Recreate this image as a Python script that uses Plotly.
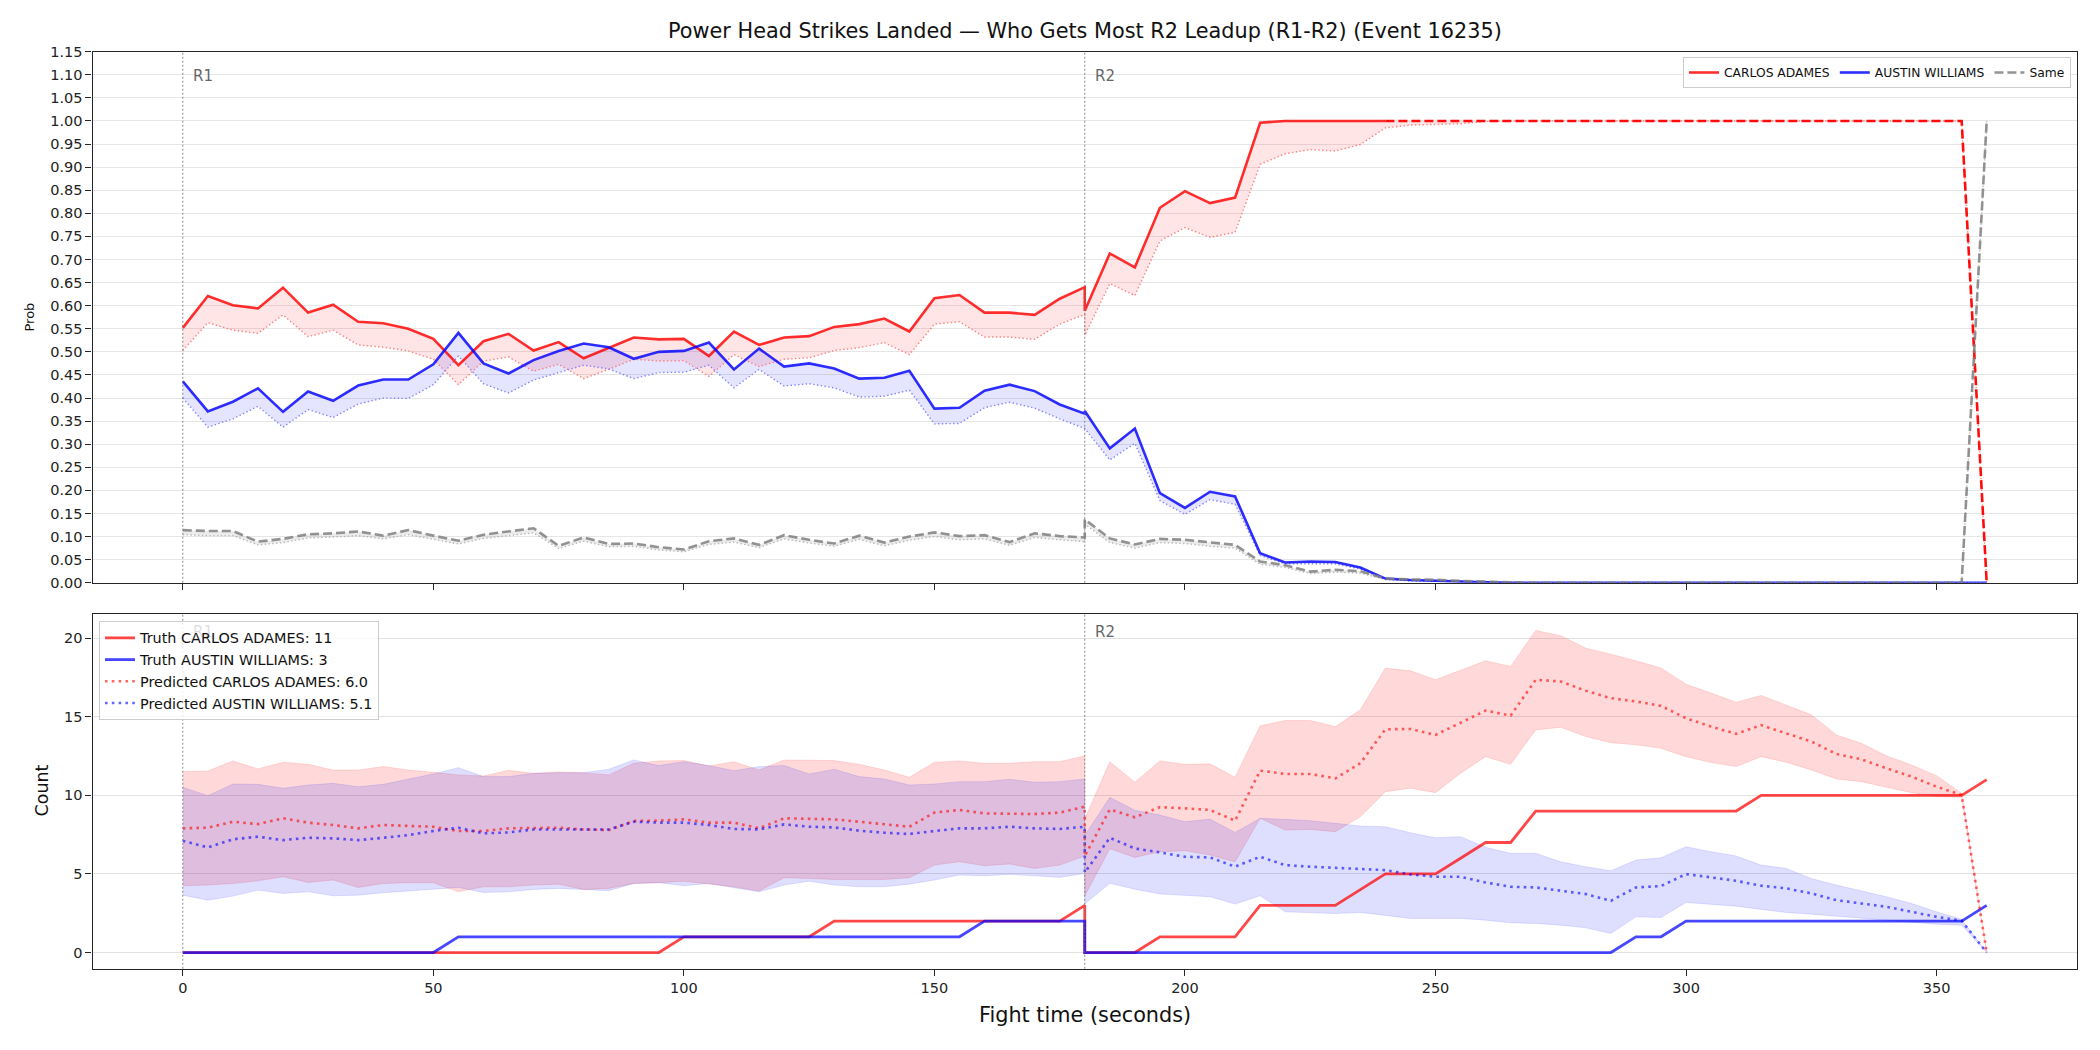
import plotly.graph_objects as go

# ---------------- data ----------------
times_r1 = list(range(0, 181, 5))
times_r2 = list(range(180, 361, 5))
times = times_r1 + times_r2

# top panel: probabilities
carlos_prob_r1 = [0.552,0.621,0.601,0.594,0.639,0.585,0.602,0.565,0.562,0.550,0.528,0.471,0.523,0.539,0.503,0.521,0.486,0.509,0.531,0.527,0.528,0.491,0.544,0.515,0.531,0.534,0.554,0.560,0.572,0.544,0.616,0.623,0.585,0.585,0.580,0.615,0.640]
carlos_prob_r2 = [0.589,0.713,0.683,0.812,0.848,0.822,0.834,0.996,1.0,1.0,1.0,1.0,1.0,1.0,1.0,1.0,1.0,1.0,1.0,1.0,1.0,1.0,1.0,1.0,1.0,1.0,1.0,1.0,1.0,1.0,1.0,1.0,1.0,1.0,1.0,1.0,0.0]
carlos_alt_r1 = [0.503,0.563,0.547,0.540,0.580,0.533,0.547,0.515,0.510,0.502,0.484,0.429,0.480,0.489,0.458,0.473,0.442,0.462,0.484,0.480,0.481,0.447,0.494,0.468,0.484,0.487,0.503,0.509,0.520,0.494,0.560,0.565,0.532,0.532,0.527,0.560,0.581]
carlos_alt_r2 = [0.536,0.648,0.622,0.740,0.769,0.748,0.759,0.906,0.929,0.938,0.935,0.949,0.985,0.991,0.993,0.994,0.999,1.0,1.0,1.0,1.0,1.0,1.0,1.0,1.0,1.0,1.0,1.0,1.0,1.0,1.0,1.0,1.0,1.0,1.0,1.0,0.0]
austin_prob_r1 = [0.436,0.371,0.392,0.421,0.370,0.414,0.394,0.427,0.440,0.440,0.473,0.541,0.475,0.453,0.482,0.502,0.518,0.510,0.485,0.500,0.502,0.520,0.462,0.507,0.468,0.475,0.464,0.442,0.444,0.459,0.377,0.379,0.416,0.429,0.415,0.386,0.366]
austin_prob_r2 = [0.372,0.291,0.334,0.194,0.162,0.197,0.187,0.064,0.044,0.046,0.045,0.033,0.009,0.006,0.004,0.003,0.001,0.0,0.0,0.0,0.0,0.0,0.0,0.0,0.0,0.0,0.0,0.0,0.0,0.0,0.0,0.0,0.0,0.0,0.0,0.0,0.0]
austin_alt_r1 = [0.400,0.337,0.355,0.382,0.337,0.375,0.358,0.387,0.400,0.399,0.429,0.491,0.431,0.411,0.439,0.455,0.471,0.463,0.442,0.455,0.456,0.471,0.422,0.462,0.426,0.431,0.422,0.402,0.404,0.417,0.344,0.345,0.379,0.391,0.378,0.355,0.335]
austin_alt_r2 = [0.334,0.266,0.302,0.178,0.148,0.180,0.170,0.059,0.041,0.041,0.041,0.030,0.007,0.004,0.003,0.002,0.001,0.0,0.0,0.0,0.0,0.0,0.0,0.0,0.0,0.0,0.0,0.0,0.0,0.0,0.0,0.0,0.0,0.0,0.0,0.0,0.0]
same_prob_r1 = [0.114,0.112,0.112,0.089,0.095,0.105,0.107,0.111,0.102,0.114,0.102,0.091,0.104,0.111,0.118,0.080,0.098,0.084,0.085,0.077,0.072,0.090,0.096,0.082,0.103,0.093,0.085,0.102,0.087,0.100,0.109,0.101,0.103,0.088,0.107,0.101,0.098]
same_prob_r2 = [0.137,0.096,0.083,0.095,0.093,0.087,0.082,0.046,0.038,0.024,0.028,0.025,0.009,0.007,0.0065,0.004,0.002,0.001,0.0,0.0,0.0,0.0,0.0,0.0,0.0,0.0,0.0,0.0,0.0,0.0,0.0,0.0,0.0,0.0,0.0,0.0,1.0]
same_alt_r1 = [0.104,0.102,0.102,0.082,0.087,0.097,0.099,0.102,0.095,0.104,0.094,0.084,0.096,0.102,0.108,0.074,0.090,0.078,0.079,0.071,0.067,0.083,0.088,0.076,0.095,0.086,0.079,0.094,0.080,0.092,0.100,0.093,0.095,0.081,0.098,0.093,0.089]
same_alt_r2 = [0.127,0.087,0.075,0.087,0.085,0.079,0.075,0.040,0.033,0.020,0.023,0.021,0.007,0.005,0.005,0.003,0.001,0.0,0.0,0.0,0.0,0.0,0.0,0.0,0.0,0.0,0.0,0.0,0.0,0.0,0.0,0.0,0.0,0.0,0.0,0.0,1.0]
carlos_settled_from = 240   # after this time the leader's line is drawn dashed

# bottom panel: counts
carlos_truth_r1 = [0,0,0,0,0,0,0,0,0,0,0,0,0,0,0,0,0,0,0,0,1,1,1,1,1,1,2,2,2,2,2,2,2,2,2,2,3]
carlos_truth_r2 = [0,0,0,1,1,1,1,3,3,3,3,4,5,5,5,6,7,7,9,9,9,9,9,9,9,9,9,10,10,10,10,10,10,10,10,10,11]
austin_truth_r1 = [0,0,0,0,0,0,0,0,0,0,0,1,1,1,1,1,1,1,1,1,1,1,1,1,1,1,1,1,1,1,1,1,2,2,2,2,2]
austin_truth_r2 = [0,0,0,0,0,0,0,0,0,0,0,0,0,0,0,0,0,0,0,0,0,0,1,1,2,2,2,2,2,2,2,2,2,2,2,2,3]
carlos_pred_r1 = [7.90,7.94,8.32,8.17,8.54,8.26,8.11,7.90,8.11,8.07,8.00,7.73,7.73,7.90,7.90,7.94,7.83,7.79,8.37,8.39,8.47,8.26,8.26,7.90,8.54,8.49,8.47,8.32,8.17,8.00,8.90,9.07,8.85,8.85,8.81,8.90,9.28]
carlos_pred_r2 = [6.15,9.10,8.60,9.25,9.17,9.07,8.39,11.57,11.36,11.36,11.08,12.04,14.20,14.22,13.84,14.63,15.39,15.07,17.35,17.24,16.65,16.18,15.97,15.69,14.90,14.37,13.91,14.46,13.95,13.42,12.63,12.29,11.72,11.19,10.55,10.02,0.0]
carlos_hi_r1 = [11.51,11.55,12.19,11.68,12.10,11.97,11.61,11.61,11.83,11.61,11.46,11.30,11.23,11.59,11.40,11.49,11.44,11.30,12.04,12.19,12.21,11.87,12.14,11.61,12.25,12.25,12.21,11.97,11.61,11.15,12.10,12.19,12.04,12.04,12.14,12.14,12.51]
carlos_hi_r2 = [8.49,12.14,10.83,12.19,11.97,12.00,11.15,14.42,14.76,14.76,14.37,15.44,18.09,17.92,17.35,17.94,18.56,18.20,20.49,20.15,19.36,18.98,18.56,18.09,17.07,16.50,15.92,16.35,15.75,15.12,13.84,13.31,12.51,11.93,11.25,10.13,0.0]
carlos_lo_r1 = [4.25,4.29,4.39,4.56,4.82,4.46,4.61,4.14,4.39,4.44,4.44,3.86,4.18,4.18,4.29,4.35,4.01,4.08,4.39,4.44,4.54,4.35,4.18,3.91,4.76,4.71,4.65,4.65,4.65,4.76,5.56,5.77,5.52,5.63,5.35,5.56,6.14]
carlos_lo_r2 = [3.60,6.60,6.05,6.41,6.48,6.20,5.77,8.54,7.79,7.83,7.69,8.64,10.23,10.45,10.17,11.40,12.46,11.97,14.16,14.33,13.74,13.35,13.21,12.99,12.46,12.08,11.83,12.46,12.10,11.61,11.04,10.87,10.51,10.17,9.92,9.87,0.0]
austin_pred_r1 = [7.11,6.69,7.20,7.37,7.15,7.30,7.26,7.15,7.30,7.47,7.73,7.94,7.58,7.64,7.83,7.83,7.79,7.83,8.32,8.26,8.26,8.11,7.86,7.83,8.15,8.00,7.96,7.75,7.62,7.54,7.73,7.90,7.90,8.00,7.90,7.86,8.00]
austin_pred_r2 = [5.09,7.30,6.62,6.37,6.09,6.05,5.46,6.09,5.56,5.46,5.39,5.35,5.24,4.97,4.82,4.82,4.46,4.18,4.14,3.93,3.72,3.29,4.14,4.23,4.99,4.78,4.56,4.25,4.08,3.76,3.33,3.12,2.91,2.59,2.27,2.02,0.0]
austin_hi_r1 = [10.51,9.98,10.72,10.70,10.45,10.66,10.76,10.55,10.70,11.04,11.36,11.76,11.19,11.19,11.40,11.44,11.44,11.66,12.25,11.89,12.14,11.89,11.57,11.83,11.89,11.36,11.66,11.19,11.04,10.66,10.72,10.87,10.87,11.02,10.83,10.87,11.04]
austin_hi_r2 = [7.45,9.87,9.05,8.75,8.32,8.49,7.64,8.54,8.47,8.39,8.22,8.05,8.00,7.62,7.30,7.37,6.69,6.31,6.31,5.77,5.46,5.20,5.88,6.03,6.73,6.41,6.14,5.56,5.35,4.71,4.29,3.93,3.55,3.12,2.59,2.12,0.0]
austin_lo_r1 = [3.65,3.33,3.59,3.97,3.76,3.86,3.61,3.65,3.80,3.91,4.01,4.14,3.82,3.86,4.01,4.08,4.01,3.93,4.39,4.44,4.25,4.39,4.12,3.86,4.29,4.54,4.29,4.18,4.18,4.35,4.61,4.93,4.88,4.97,4.88,4.78,5.03]
austin_lo_r2 = [3.09,4.40,4.03,3.72,3.65,3.55,3.08,3.61,2.59,2.55,2.48,2.55,2.38,2.17,2.17,2.17,2.06,1.89,1.85,1.74,1.57,1.21,2.27,2.23,3.18,3.08,2.95,2.74,2.55,2.44,2.31,2.17,2.06,1.95,1.80,1.74,0.0]

name_a = "CARLOS ADAMES"
name_b = "AUSTIN WILLIAMS"
truth_a_total = 11
truth_b_total = 3
pred_a_total = 6.0
pred_b_total = 5.1
round_starts = [0, 180]
round_labels = ["R1", "R2"]
x_ticks = [0, 50, 100, 150, 200, 250, 300, 350]

# ---------------- styles ----------------
FONT = "DejaVu Sans"
RED = "rgba(255,0,0,0.82)"
BLUE = "rgba(0,0,255,0.82)"
GREY = "rgba(128,128,128,0.85)"

fig = go.Figure()

def band(x, lo, hi, fill, xa, ya, edge="rgba(0,0,0,0)"):
    fig.add_trace(go.Scatter(x=x, y=lo, mode="lines", line=dict(width=1, color=edge),
                             showlegend=False, hoverinfo="skip", xaxis=xa, yaxis=ya))
    fig.add_trace(go.Scatter(x=x, y=hi, mode="lines", line=dict(width=1, color=edge),
                             fill="tonexty", fillcolor=fill, showlegend=False,
                             hoverinfo="skip", xaxis=xa, yaxis=ya))

# ---- top panel ----
ca = carlos_prob_r1 + carlos_prob_r2
ca2 = carlos_alt_r1 + carlos_alt_r2
au = austin_prob_r1 + austin_prob_r2
au2 = austin_alt_r1 + austin_alt_r2
sm = same_prob_r1 + same_prob_r2
sm2 = same_alt_r1 + same_alt_r2

n1 = len(times_r1)
ca_solid = [v if (i < n1 or t <= carlos_settled_from) else None for i, (t, v) in enumerate(zip(times, ca))]
ca_dash = [v if (i >= n1 and t >= carlos_settled_from) else None for i, (t, v) in enumerate(zip(times, ca))]

band(times, ca2, ca, "rgba(255,0,0,0.10)", "x", "y")
band(times, au2, au, "rgba(0,0,255,0.10)", "x", "y")
band(times, sm2, sm, "rgba(128,128,128,0.15)", "x", "y")

for yv, col in [(ca2, "rgba(255,120,120,0.95)"), (au2, "rgba(120,120,255,0.9)"), (sm2, "rgba(180,180,180,0.95)")]:
    fig.add_trace(go.Scatter(x=times, y=yv, mode="lines", showlegend=False, hoverinfo="skip",
                             line=dict(color=col, width=1.4, dash="1.4px,2.4px"), xaxis="x", yaxis="y"))

fig.add_trace(go.Scatter(x=times, y=ca_solid, mode="lines", name=name_a, legend="legend",
                         line=dict(color=RED, width=2.6), xaxis="x", yaxis="y"))
fig.add_trace(go.Scatter(x=times, y=ca_dash, mode="lines", showlegend=False, hoverinfo="skip",
                         line=dict(color="rgba(255,0,0,0.95)", width=2.6, dash="9px,4px"),
                         xaxis="x", yaxis="y"))
fig.add_trace(go.Scatter(x=times, y=au, mode="lines", name=name_b, legend="legend",
                         line=dict(color=BLUE, width=2.6), xaxis="x", yaxis="y"))
fig.add_trace(go.Scatter(x=times, y=sm, mode="lines", name="Same", legend="legend",
                         line=dict(color=GREY, width=2.6, dash="9px,4px"), xaxis="x", yaxis="y"))

# ---- bottom panel ----
band(times, carlos_lo_r1 + carlos_lo_r2, carlos_hi_r1 + carlos_hi_r2,
     "rgba(255,0,0,0.15)", "x2", "y2", edge="rgba(255,0,0,0.12)")
band(times, austin_lo_r1 + austin_lo_r2, austin_hi_r1 + austin_hi_r2,
     "rgba(0,0,255,0.13)", "x2", "y2", edge="rgba(0,0,255,0.10)")

fig.add_trace(go.Scatter(x=times, y=carlos_truth_r1 + carlos_truth_r2, mode="lines",
                         name=f"Truth {name_a}: {truth_a_total}", legend="legend2",
                         line=dict(color="rgba(255,0,0,0.72)", width=2.8), xaxis="x2", yaxis="y2"))
fig.add_trace(go.Scatter(x=times, y=austin_truth_r1 + austin_truth_r2, mode="lines",
                         name=f"Truth {name_b}: {truth_b_total}", legend="legend2",
                         line=dict(color="rgba(0,0,255,0.72)", width=2.8), xaxis="x2", yaxis="y2"))
fig.add_trace(go.Scatter(x=times, y=carlos_pred_r1 + carlos_pred_r2, mode="lines",
                         name=f"Predicted {name_a}: {pred_a_total:.1f}", legend="legend2",
                         line=dict(color="rgba(255,0,0,0.6)", width=2.6, dash="2.6px,4.2px"),
                         xaxis="x2", yaxis="y2"))
fig.add_trace(go.Scatter(x=times, y=austin_pred_r1 + austin_pred_r2, mode="lines",
                         name=f"Predicted {name_b}: {pred_b_total:.1f}", legend="legend2",
                         line=dict(color="rgba(0,0,255,0.6)", width=2.6, dash="2.6px,4.2px"),
                         xaxis="x2", yaxis="y2"))

# ---------------- layout ----------------
XDOM = [0.0441, 0.9890]
TOP = [0.4450, 0.9508]
BOT = [0.0774, 0.4152]
tickfont = dict(family=FONT, size=14.5, color="#222")
axcommon = dict(showline=True, linecolor="#262626", linewidth=1.4, mirror=True,
                ticks="outside", ticklen=6, tickwidth=1.3, tickcolor="#262626",
                zeroline=False, tickfont=tickfont, automargin=False)

shapes = []
annotations = []
for xr, yr in [("x", "y"), ("x2", "y2")]:
    for rs in round_starts:
        shapes.append(dict(type="line", xref=xr, yref=yr + " domain", x0=rs, x1=rs, y0=0, y1=1,
                           line=dict(color="rgba(110,110,110,0.8)", width=1, dash="2px,2px"), layer="above"))
for rs, lab in zip(round_starts, round_labels):
    annotations.append(dict(x=rs + 1.6, y=1.097, xref="x", yref="y", text=lab, showarrow=False,
                            xanchor="left", yanchor="middle", font=dict(family=FONT, size=15, color="#666")))
    # in the lower panel the R1 label sits behind the semi-transparent legend
    lab_col = "rgba(102,102,102,0.22)" if rs == 0 else "#666"
    annotations.append(dict(x=rs + 1.6, y=20.4, xref="x2", yref="y2", text=lab, showarrow=False,
                            xanchor="left", yanchor="middle", font=dict(family=FONT, size=15, color=lab_col)))

annotations += [
    dict(text="Power Head Strikes Landed \u2014 Who Gets Most R2 Leadup (R1-R2) (Event 16235)",
         x=1085 / 2100, y=1 - 31 / 1050, xref="paper", yref="paper", showarrow=False,
         xanchor="center", yanchor="middle", font=dict(family=FONT, size=20.8, color="#111")),
    dict(text="Prob", x=28.5 / 2100, y=1 - 317 / 1050, xref="paper", yref="paper", showarrow=False,
         textangle=-90, xanchor="center", yanchor="middle", font=dict(family=FONT, size=13, color="#111")),
    dict(text="Count", x=41.5 / 2100, y=1 - 791 / 1050, xref="paper", yref="paper", showarrow=False,
         textangle=-90, xanchor="center", yanchor="middle", font=dict(family=FONT, size=17.5, color="#111")),
    dict(text="Fight time (seconds)", x=1085 / 2100, y=1 - 1015 / 1050, xref="paper", yref="paper",
         showarrow=False, xanchor="center", yanchor="middle", font=dict(family=FONT, size=20.8, color="#111")),
]

fig.update_layout(
    width=2100, height=1050,
    autosize=False,
    margin=dict(l=0, r=0, t=0, b=0, pad=0, autoexpand=False),
    paper_bgcolor="white", plot_bgcolor="white",
    font=dict(family=FONT, color="#111"),
    xaxis=dict(domain=XDOM, anchor="y", range=[-18, 378], tickvals=x_ticks, showticklabels=False,
               showgrid=False, **axcommon),
    yaxis=dict(domain=TOP, anchor="x", range=[0, 1.15], dtick=0.05, tick0=0, tickformat=".2f",
               showgrid=True, gridcolor="#e6e6e6", gridwidth=1, **axcommon),
    xaxis2=dict(domain=XDOM, anchor="y2", range=[-18, 378], tickvals=x_ticks, matches="x",
                showgrid=False, **axcommon),
    yaxis2=dict(domain=BOT, anchor="x2", range=[-1.03, 21.53], tickvals=[0, 5, 10, 15, 20],
                showgrid=True, gridcolor="#e2e2e2", gridwidth=1, **axcommon),
    legend=dict(orientation="h", x=2071 / 2100, y=1 - 57 / 1050, xanchor="right", yanchor="top",
                bgcolor="rgba(255,255,255,0.8)", bordercolor="#cccccc", borderwidth=1,
                traceorder="normal",
                font=dict(family=FONT, size=12.3, color="#111"), itemwidth=30, tracegroupgap=0),
    legend2=dict(orientation="v", x=99 / 2100, y=1 - 621 / 1050, xanchor="left", yanchor="top",
                 bgcolor="rgba(255,255,255,0.8)", bordercolor="#cccccc", borderwidth=1,
                 traceorder="normal",
                 font=dict(family=FONT, size=14.4, color="#111"), tracegroupgap=0),
    shapes=shapes,
    annotations=annotations,
    showlegend=True,
)

fig.write_html("out.html")
